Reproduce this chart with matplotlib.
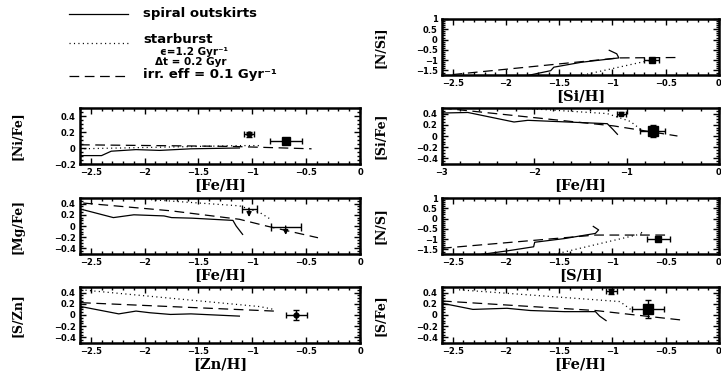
import matplotlib
matplotlib.use('Agg')
import matplotlib.pyplot as plt
from matplotlib.lines import Line2D
from matplotlib.ticker import MultipleLocator, FuncFormatter

plt.rcParams['lines.scale_dashes'] = False
plt.rcParams['font.family'] = 'DejaVu Sans'

W, H = 721, 374

# ---- [N/Si] vs [Si/H]
nsi_solid_x = [-1.82, -1.58, -1.55, -1.29, -0.94, -0.96, -1.03]
nsi_solid_y = [-1.77, -1.51, -1.34, -1.10, -0.89, -0.69, -0.52]
nsi_dash_x = [-2.50, -0.94, -0.37]
nsi_dash_y = [-1.70, -0.89, -0.87]
nsi_dot_x = [-1.32, -0.94, -0.66]
nsi_dot_y = [-1.77, -1.34, -1.02]
nsi_obs = dict(x=[-0.63], y=[-0.98], xerr=[0.07], yerr=[0.05])

# ---- [Ni/Fe] vs [Fe/H]
ni_solid_x = [-2.60, -2.40, -2.31, -2.08, -1.86, -1.57, -1.12]
ni_solid_y = [-0.095, -0.095, -0.04, -0.02, -0.03, -0.01, 0.0]
ni_dash_x = [-2.60, -1.20, -0.45]
ni_dash_y = [0.04, 0.02, -0.01]
ni_dot_x = [-2.60, -1.12, -0.93]
ni_dot_y = [-0.01, 0.03, 0.03]
ni_obs_small = dict(x=[-1.03], y=[0.17], xerr=[0.05], yerr=[0.035])
ni_obs_big = dict(x=[-0.69], y=[0.09], xerr=[0.15], yerr=[0.02])

# ---- [Si/Fe] vs [Fe/H]
si_solid_x = [-3.0, -2.72, -2.22, -2.07, -1.21, -1.15, -1.10]
si_solid_y = [0.41, 0.42, 0.25, 0.28, 0.22, 0.12, 0.03]
si_dash_x = [-3.0, -1.14, -0.45]
si_dash_y = [0.50, 0.18, 0.0]
si_dot_x = [-2.07, -1.21, -0.96, -0.85]
si_dot_y = [0.49, 0.40, 0.26, 0.12]
si_obs_small = dict(x=[-1.06], y=[0.40], xerr=[0.05], yerr=[0.02])
si_obs_big = dict(x=[-0.72], y=[0.09], xerr=[0.14], yerr=[0.11])

# ---- [Mg/Fe] vs [Fe/H]
mg_solid_x = [-2.57, -2.29, -2.10, -1.82, -1.75, -1.56, -1.18, -1.15, -1.09]
mg_solid_y = [0.29, 0.15, 0.20, 0.18, 0.15, 0.14, 0.10, 0.0, -0.15]
mg_dash_x = [-2.57, -1.75, -1.12, -0.87, -0.39]
mg_dash_y = [0.41, 0.27, 0.12, 0.0, -0.21]
mg_dot_x = [-1.94, -1.12, -0.93, -0.83]
mg_dot_y = [0.47, 0.36, 0.24, 0.12]
mg_lim_x = [-1.03, -0.69]
mg_lim_y = [0.30, -0.02]
mg_lim_xerr = [0.07, 0.14]

# ---- [N/S] vs [S/H]
ns_solid_x = [-2.23, -1.99, -1.74, -1.73, -1.45, -1.16, -1.13, -1.18]
ns_solid_y = [-1.74, -1.57, -1.37, -1.15, -0.97, -0.72, -0.55, -0.38]
ns_dash_x = [-2.60, -1.16, -0.50]
ns_dash_y = [-1.44, -0.80, -0.80]
ns_dot_x = [-1.55, -1.13, -0.71, -0.76]
ns_dot_y = [-1.74, -1.23, -0.72, -0.60]
ns_obs = dict(x=[-0.57], y=[-1.0], xerr=[0.11], yerr=[0.04])

# ---- [S/Zn] vs [Zn/H]
szn_solid_x = [-2.59, -2.24, -2.08, -1.95, -1.76, -1.57, -1.12]
szn_solid_y = [0.15, 0.02, 0.07, 0.04, 0.01, 0.02, -0.02]
szn_dash_x = [-2.59, -0.80]
szn_dash_y = [0.22, 0.07]
szn_dot_x = [-2.59, -0.93, -0.80]
szn_dot_y = [0.45, 0.15, 0.10]
szn_obs = dict(x=[-0.59], y=[0.0], xerr=[0.10], yerr=[0.09])

# ---- [S/Fe] vs [Fe/H]
sfe_solid_x = [-2.60, -2.31, -1.99, -1.77, -1.45, -1.16, -1.12, -1.06]
sfe_solid_y = [0.21, 0.10, 0.12, 0.08, 0.06, 0.06, -0.02, -0.10]
sfe_dash_x = [-2.60, -1.16, -0.83, -0.35]
sfe_dash_y = [0.25, 0.08, 0.01, -0.09]
sfe_dot_x = [-2.44, -0.93, -0.83]
sfe_dot_y = [0.45, 0.24, 0.10]
sfe_obs_small = dict(x=[-1.01], y=[0.42], xerr=[0.05], yerr=[0.04])
sfe_obs_big = dict(x=[-0.67], y=[0.11], xerr=[0.15], yerr=[0.16])

DASH = (0, (7, 4))
DOT = (0, (0.8, 2.4))
tickfont = dict(family='DejaVu Sans', weight='bold', size=6)
xlabfont = dict(family='DejaVu Serif', weight='bold', size=10.5)
ylabfont = dict(family='DejaVu Serif', weight='bold', size=9)


def tickfmt(v, pos):
    s = '%g' % round(v, 3)
    if s == '-0':
        s = '0'
    return s.replace('-', '\u2212')


def make_ax(col, row_top, xlim, ylim, xmaj, xmin, ymaj, ymin, xlabel, ylabel):
    x0 = 80 if col == 0 else 442
    x1 = 360 if col == 0 else 719
    h = 56
    ax = fig.add_axes([x0 / W, 1 - (row_top + h) / H, (x1 - x0) / W, h / H])
    ax.set_xlim(*xlim)
    ax.set_ylim(*ylim)
    ax.xaxis.set_major_locator(MultipleLocator(xmaj))
    ax.xaxis.set_minor_locator(MultipleLocator(xmin))
    ax.yaxis.set_major_locator(MultipleLocator(ymaj))
    ax.yaxis.set_minor_locator(MultipleLocator(ymin))
    ax.xaxis.set_major_formatter(FuncFormatter(tickfmt))
    ax.yaxis.set_major_formatter(FuncFormatter(tickfmt))
    ax.tick_params(which='both', direction='in', top=True, right=True, width=1)
    ax.tick_params(which='major', length=4, pad=3)
    ax.tick_params(which='minor', length=2)
    for lab in ax.get_xticklabels() + ax.get_yticklabels():
        lab.set(**tickfont)
    for s in ax.spines.values():
        s.set_linewidth(1.8)
    ax.set_xlabel(xlabel, **xlabfont)
    ax.set_ylabel(ylabel, **ylabfont)
    ax.xaxis.set_label_coords(0.5, -0.26)
    ax.yaxis.set_label_coords(-0.2, 0.5)
    return ax


def curves(ax, sx, sy, dx, dy, ox, oy):
    ax.plot(sx, sy, color='black', lw=0.9)
    ax.plot(dx, dy, color='black', lw=0.9, linestyle=DASH)
    ax.plot(ox, oy, color='black', lw=0.9, linestyle=DOT)


def obs(ax, d, marker, ms):
    ax.errorbar(d['x'], d['y'], xerr=d['xerr'], yerr=d['yerr'], fmt=marker,
                color='black', ms=ms, capsize=2.5, elinewidth=1, capthick=1)


fig = plt.figure(figsize=(W / 100, H / 100), dpi=100)

# top right: [N/Si]
ax = make_ax(1, 19, (-2.6, 0), (-1.72, 1), 0.5, 0.1, 0.5, 0.1, '[Si/H]', '[N/Si]')
curves(ax, nsi_solid_x, nsi_solid_y, nsi_dash_x, nsi_dash_y, nsi_dot_x, nsi_dot_y)
obs(ax, nsi_obs, 's', 5)

# row 2 left: [Ni/Fe]
ax = make_ax(0, 108, (-2.6, 0), (-0.2, 0.5), 0.5, 0.1, 0.2, 0.05, '[Fe/H]', '[Ni/Fe]')
curves(ax, ni_solid_x, ni_solid_y, ni_dash_x, ni_dash_y, ni_dot_x, ni_dot_y)
obs(ax, ni_obs_small, 'o', 3.5)
obs(ax, ni_obs_big, 's', 6)

# row 2 right: [Si/Fe]
ax = make_ax(1, 108, (-3, 0), (-0.5, 0.5), 1, 0.2, 0.2, 0.05, '[Fe/H]', '[Si/Fe]')
curves(ax, si_solid_x, si_solid_y, si_dash_x, si_dash_y, si_dot_x, si_dot_y)
obs(ax, si_obs_small, 's', 3.5)
obs(ax, si_obs_big, 's', 7)

# row 3 left: [Mg/Fe]
ax = make_ax(0, 198, (-2.6, 0), (-0.5, 0.5), 0.5, 0.1, 0.2, 0.05, '[Fe/H]', '[Mg/Fe]')
curves(ax, mg_solid_x, mg_solid_y, mg_dash_x, mg_dash_y, mg_dot_x, mg_dot_y)
ax.errorbar(mg_lim_x, mg_lim_y, xerr=mg_lim_xerr, fmt='none', color='black',
            capsize=3, elinewidth=1, capthick=1)
for x, y in zip(mg_lim_x, mg_lim_y):
    ax.annotate('', xy=(x, y - 0.14), xytext=(x, y + 0.02),
                arrowprops=dict(arrowstyle='-|>', color='black', lw=1,
                                mutation_scale=7, shrinkA=0, shrinkB=0))

# row 3 right: [N/S]
ax = make_ax(1, 198, (-2.6, 0), (-1.72, 1), 0.5, 0.1, 0.5, 0.1, '[S/H]', '[N/S]')
curves(ax, ns_solid_x, ns_solid_y, ns_dash_x, ns_dash_y, ns_dot_x, ns_dot_y)
obs(ax, ns_obs, 's', 5)

# row 4 left: [S/Zn]
ax = make_ax(0, 287, (-2.6, 0), (-0.5, 0.5), 0.5, 0.1, 0.2, 0.05, '[Zn/H]', '[S/Zn]')
curves(ax, szn_solid_x, szn_solid_y, szn_dash_x, szn_dash_y, szn_dot_x, szn_dot_y)
obs(ax, szn_obs, 'o', 3.5)

# row 4 right: [S/Fe]
ax = make_ax(1, 287, (-2.6, 0), (-0.5, 0.5), 0.5, 0.1, 0.2, 0.05, '[Fe/H]', '[S/Fe]')
curves(ax, sfe_solid_x, sfe_solid_y, sfe_dash_x, sfe_dash_y, sfe_dot_x, sfe_dot_y)
obs(ax, sfe_obs_small, 's', 3.5)
obs(ax, sfe_obs_big, 's', 7)

# legend drawn in figure pixels
def fx(px):
    return px / W


def fy(py):
    return 1 - py / H


for ypix, ty, ls, label in [(14, 13, '-', 'spiral outskirts'),
                            (43, 39.5, DOT, 'starburst'),
                            (76, 74.5, DASH, 'irr. eff = 0.1 Gyr⁻¹')]:
    fig.add_artist(Line2D([fx(69), fx(128)], [fy(ypix), fy(ypix)],
                          color='black', lw=0.9, linestyle=ls))
    fig.text(fx(143), fy(ty), label, va='center', ha='left',
             family='DejaVu Sans', weight='bold', size=9.5)
fig.text(fx(160), fy(52), 'ϵ=1.2 Gyr⁻¹', va='center', ha='left',
         family='DejaVu Sans', weight='bold', size=7.5)
fig.text(fx(155), fy(62), 'Δt = 0.2 Gyr', va='center', ha='left',
         family='DejaVu Sans', weight='bold', size=7.5)

fig.savefig('out.png', dpi=100)
